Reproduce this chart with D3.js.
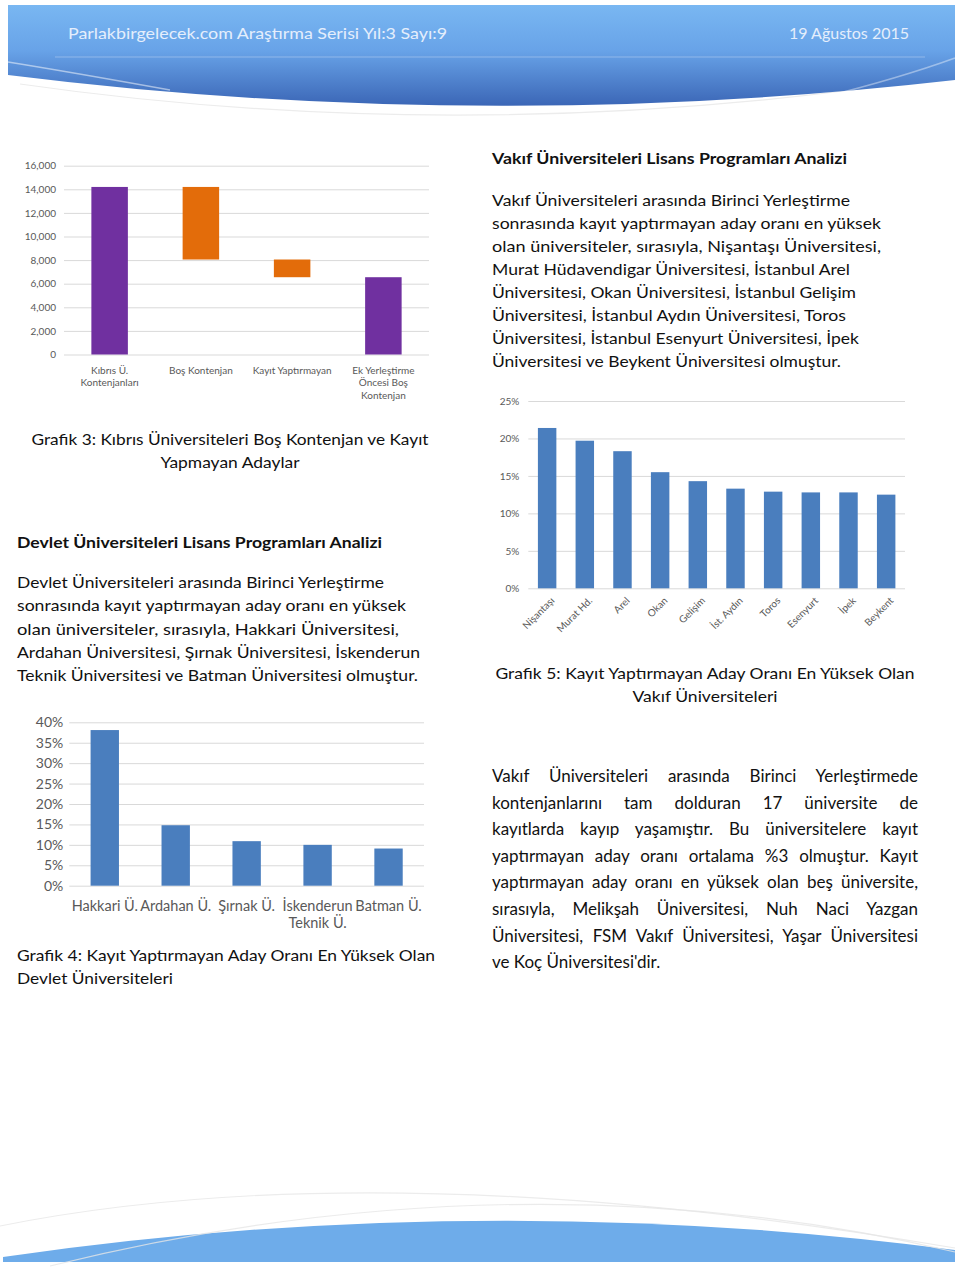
<!DOCTYPE html>
<html>
<head>
<meta charset="utf-8">
<script src="https://cdn.jsdelivr.net/npm/d3@7"></script>
<style>
  body { margin: 0; background: #fff; }
  svg text { font-family: Lato, "Open Sans", sans-serif; }
</style>
</head>
<body>
<svg id="page" width="960" height="1267"></svg>
<script>
// --- Veriler ---
const kibrisKategoriler = ["Kıbrıs Ü.\nKontenjanları", "Boş Kontenjan", "Kayıt Yaptırmayan", "Ek Yerleştirme\nÖncesi Boş\nKontenjan"];
const kibrisDegerler = [14200, -6150, -1500, 6550];
const kibrisTur = ["toplam", "degisim", "degisim", "toplam"];
const kibrisTikler = [0, 2000, 4000, 6000, 8000, 10000, 12000, 14000, 16000];

const vakifUniler = ["Nişantaşı", "Murat Hd.", "Arel", "Okan", "Gelişim", "İst. Aydın", "Toros", "Esenyurt", "İpek", "Beykent"];
const vakifOran = [21.4, 19.7, 18.3, 15.5, 14.3, 13.3, 12.9, 12.8, 12.8, 12.5];
const vakifTikler = [0, 5, 10, 15, 20, 25];

const devletUniler = ["Hakkari Ü.", "Ardahan Ü.", "Şırnak Ü.", "İskenderun\nTeknik Ü.", "Batman Ü."];
const devletOran = [38.1, 14.8, 10.9, 10.0, 9.1];
const devletTikler = [0, 5, 10, 15, 20, 25, 30, 35, 40];

// --- Metinler ---
const baslikSol = "Parlakbirgelecek.com Araştırma Serisi  Yıl:3 Sayı:9";
const baslikSag = "19 Ağustos 2015";
const vakifBaslik = "Vakıf Üniversiteleri Lisans Programları Analizi";
const vakifParagraf = [
  "Vakıf Üniversiteleri arasında Birinci Yerleştirme",
  "sonrasında kayıt yaptırmayan aday oranı en yüksek",
  "olan üniversiteler, sırasıyla, Nişantaşı Üniversitesi,",
  "Murat Hüdavendigar Üniversitesi, İstanbul Arel",
  "Üniversitesi, Okan Üniversitesi, İstanbul Gelişim",
  "Üniversitesi, İstanbul Aydın Üniversitesi, Toros",
  "Üniversitesi, İstanbul Esenyurt Üniversitesi, İpek",
  "Üniversitesi ve Beykent Üniversitesi olmuştur."
];
const grafik3 = ["Grafik 3: Kıbrıs Üniversiteleri Boş Kontenjan ve Kayıt", "Yapmayan Adaylar"];
const devletBaslik = "Devlet Üniversiteleri Lisans Programları Analizi";
const devletParagraf = [
  "Devlet Üniversiteleri arasında Birinci Yerleştirme",
  "sonrasında kayıt yaptırmayan aday oranı en yüksek",
  "olan üniversiteler, sırasıyla, Hakkari Üniversitesi,",
  "Ardahan Üniversitesi, Şırnak Üniversitesi, İskenderun",
  "Teknik Üniversitesi ve Batman Üniversitesi olmuştur."
];
const grafik5 = ["Grafik 5: Kayıt Yaptırmayan Aday Oranı En Yüksek Olan", "Vakıf Üniversiteleri"];
const grafik4 = ["Grafik 4: Kayıt Yaptırmayan Aday Oranı En Yüksek Olan", "Devlet Üniversiteleri"];
const altParagraf = [
  "Vakıf Üniversiteleri arasında Birinci Yerleştirmede",
  "kontenjanlarını tam dolduran 17 üniversite de",
  "kayıtlarda kayıp yaşamıştır. Bu üniversitelere kayıt",
  "yaptırmayan aday oranı ortalama %3 olmuştur. Kayıt",
  "yaptırmayan aday oranı en yüksek olan beş üniversite,",
  "sırasıyla, Melikşah Üniversitesi, Nuh Naci Yazgan",
  "Üniversitesi, FSM Vakıf Üniversitesi, Yaşar Üniversitesi",
  "ve Koç Üniversitesi'dir."
];

const svg = d3.select("#page");
const grid = "#d9d9d9", etiket = "#595959";

// --- Üst bant ---
const defs = svg.append("defs");
const grad = defs.append("linearGradient").attr("id", "ust").attr("x1", 0).attr("y1", 0).attr("x2", 0).attr("y2", 1);
grad.append("stop").attr("offset", "0%").attr("stop-color", "#79b7f2");
grad.append("stop").attr("offset", "45%").attr("stop-color", "#68a3e8");
grad.append("stop").attr("offset", "100%").attr("stop-color", "#3b66b6");

svg.append("path").attr("d", "M20,84 Q480,150 950,76").attr("fill", "none").attr("stroke", "#ececec").attr("stroke-width", 1.2);
svg.append("path").attr("d", "M8,5 H955 V80 Q480,134 8,75 Z").attr("fill", "url(#ust)");
svg.append("line").attr("x1", 55).attr("x2", 925).attr("y1", 57).attr("y2", 57)
  .attr("stroke", "#ffffff").attr("stroke-opacity", 0.3);
svg.append("path").attr("d", "M8,62 Q70,72 170,90").attr("fill", "none").attr("stroke", "#fff").attr("stroke-opacity", 0.5).attr("stroke-width", 1.5);
svg.append("path").attr("d", "M955,58 Q900,78 820,98").attr("fill", "none").attr("stroke", "#fff").attr("stroke-opacity", 0.4).attr("stroke-width", 1.5);

svg.append("text").attr("x", 68).attr("y", 39).attr("font-size", 16).attr("fill", "#e4eefc")
  .attr("textLength", 379).attr("lengthAdjust", "spacingAndGlyphs").text(baslikSol);
svg.append("text").attr("x", 909).attr("y", 39).attr("font-size", 16).attr("fill", "#e4eefc")
  .attr("text-anchor", "end").text(baslikSag);

// --- Alt bant ---
svg.append("path").attr("d", "M0,1226 Q380,1150 955,1248").attr("fill", "none").attr("stroke", "#ececec").attr("stroke-width", 1.2);
svg.append("path").attr("d", "M3,1262 V1257 Q480,1188 955,1250 V1262 Z").attr("fill", "#6eacea");
svg.append("path").attr("d", "M50,1266 Q520,1150 955,1252").attr("fill", "none").attr("stroke", "#e6e6e6").attr("stroke-opacity", 0.8).attr("stroke-width", 1.2);

// --- Metin yardımcısı ---
function yaz(satirlar, o) {
  satirlar.forEach((s, i) => {
    const t = svg.append("text")
      .attr("x", o.x).attr("y", o.y + i * o.dy)
      .attr("font-size", o.size).attr("font-weight", o.weight || 400)
      .attr("fill", "#111").attr("text-anchor", o.anchor || "start")
      .text(s);
    const hedef = o.widths ? o.widths[i] : null;
    if (!hedef) return;
    const dogal = t.node().getComputedTextLength();
    const bosluk = (s.match(/ /g) || []).length;
    if (o.justify && bosluk > 0) {
      t.attr("word-spacing", Math.max(0, hedef - dogal) / bosluk);
    } else {
      t.attr("textLength", hedef).attr("lengthAdjust", "spacingAndGlyphs");
    }
  });
}

yaz([vakifBaslik], { x: 492, y: 164, dy: 0, size: 16, weight: 700, widths: [355] });
yaz(vakifParagraf, { x: 492, y: 206, dy: 23, size: 16,
  widths: [358, 389, 389, 358, 364, 354, 367, 349] });
yaz(grafik3, { x: 230, y: 445, dy: 22.7, size: 16, anchor: "middle", widths: [397, 139] });
yaz([devletBaslik], { x: 17, y: 548, dy: 0, size: 16, weight: 700, widths: [365] });
yaz(devletParagraf, { x: 17, y: 588, dy: 23.3, size: 16, widths: [367, 389, 382, 403, 401] });
yaz(grafik5, { x: 705, y: 679, dy: 22.7, size: 16, anchor: "middle", widths: [419, 145] });
yaz(altParagraf, { x: 492, y: 782, dy: 26.6, size: 17, justify: true,
  widths: [426, 426, 426, 426, 426, 426, 426, null] });
yaz(grafik4, { x: 17, y: 961, dy: 23, size: 16, widths: [418, 156] });

// --- Çok satırlı eksen etiketi ---
function cokSatir(sel, ilkY, satirAra) {
  sel.each(function(d) {
    const t = d3.select(this);
    t.text(null).attr("dy", null).attr("y", null);
    d.split("\n").forEach((s, i) => {
      t.append("tspan").attr("x", 0).attr("y", ilkY + i * satirAra).text(s);
    });
  });
}

// --- Grafik 3: Kıbrıs şelale ---
{
  const x = d3.scaleBand().domain(kibrisKategoriler).range([64, 429]).paddingInner(0.6).paddingOuter(0.3);
  const y = d3.scaleLinear().domain([0, 16000]).range([354.5, 165.7]);
  const g = svg.append("g");
  const yAx = g.append("g").attr("transform", "translate(64,0)")
    .call(d3.axisLeft(y).tickValues(kibrisTikler).tickSize(-365).tickPadding(8).tickFormat(d3.format(",")));
  yAx.select(".domain").remove();
  yAx.selectAll("line").attr("stroke", grid);
  yAx.selectAll("text").attr("font-size", 10).attr("fill", etiket).attr("font-family", "Lato, sans-serif");

  let birikim = 0;
  const parcalar = kibrisDegerler.map((v, i) => {
    let a, b;
    if (kibrisTur[i] === "toplam") { a = 0; b = v; birikim = v; }
    else { a = birikim; b = birikim + v; birikim = b; }
    return { k: kibrisKategoriler[i], alt: Math.min(a, b), ust: Math.max(a, b), tur: kibrisTur[i] };
  });
  g.selectAll("rect.bar").data(parcalar).enter().append("rect")
    .attr("class", "bar")
    .attr("x", d => x(d.k)).attr("width", x.bandwidth())
    .attr("y", d => y(d.ust)).attr("height", d => y(d.alt) - y(d.ust))
    .attr("fill", d => d.tur === "toplam" ? "#7030a0" : "#e36c0a");

  const xAx = g.append("g").attr("transform", "translate(0,354.5)")
    .call(d3.axisBottom(x).tickSize(0));
  xAx.select(".domain").remove();
  xAx.selectAll("text").attr("font-size", 10).attr("fill", etiket).attr("font-family", "Lato, sans-serif");
  cokSatir(xAx.selectAll("text"), 19, 12.5);
}

// --- Grafik 5: Vakıf ---
{
  const x = d3.scaleBand().domain(vakifUniler).range([528.3, 905]).paddingInner(0.51).paddingOuter(0.255);
  const y = d3.scaleLinear().domain([0, 25]).range([588.3, 401]);
  const g = svg.append("g");
  const yAx = g.append("g").attr("transform", "translate(528.3,0)")
    .call(d3.axisLeft(y).tickValues(vakifTikler).tickSize(-376.7).tickPadding(9).tickFormat(d => d + "%"));
  yAx.select(".domain").remove();
  yAx.selectAll("line").attr("stroke", grid);
  yAx.selectAll("text").attr("font-size", 10).attr("fill", etiket).attr("font-family", "Lato, sans-serif");

  g.selectAll("rect.bar").data(vakifOran).enter().append("rect")
    .attr("class", "bar")
    .attr("x", (d, i) => x(vakifUniler[i])).attr("width", x.bandwidth())
    .attr("y", d => y(d)).attr("height", d => y(0) - y(d))
    .attr("fill", "#4a7ebe");

  const xAx = g.append("g").attr("transform", "translate(0,588.3)")
    .call(d3.axisBottom(x).tickSize(0));
  xAx.select(".domain").remove();
  xAx.selectAll("text")
    .attr("font-size", 10).attr("fill", etiket).attr("font-family", "Lato, sans-serif")
    .attr("text-anchor", "end").attr("x", 0).attr("y", 0).attr("dy", null)
    .attr("transform", "translate(8,13) rotate(-45)");
}

// --- Grafik 4: Devlet ---
{
  const x = d3.scaleBand().domain(devletUniler).range([69.3, 424]).paddingInner(0.6).paddingOuter(0.3);
  const y = d3.scaleLinear().domain([0, 40]).range([885.7, 722.3]);
  const g = svg.append("g");
  const yAx = g.append("g").attr("transform", "translate(69.3,0)")
    .call(d3.axisLeft(y).tickValues(devletTikler).tickSize(-354.7).tickPadding(6).tickFormat(d => d + "%"));
  yAx.select(".domain").remove();
  yAx.selectAll("line").attr("stroke", grid);
  yAx.selectAll("text").attr("font-size", 14).attr("fill", etiket).attr("font-family", "Lato, sans-serif");

  g.selectAll("rect.bar").data(devletOran).enter().append("rect")
    .attr("class", "bar")
    .attr("x", (d, i) => x(devletUniler[i])).attr("width", x.bandwidth())
    .attr("y", d => y(d)).attr("height", d => y(0) - y(d))
    .attr("fill", "#4a7ebe");

  const xAx = g.append("g").attr("transform", "translate(0,885.7)")
    .call(d3.axisBottom(x).tickSize(0));
  xAx.select(".domain").remove();
  xAx.selectAll("text").attr("font-size", 14.5).attr("fill", etiket).attr("font-family", "Lato, sans-serif");
  cokSatir(xAx.selectAll("text"), 25, 17.5);
}
</script>
</body>
</html>
